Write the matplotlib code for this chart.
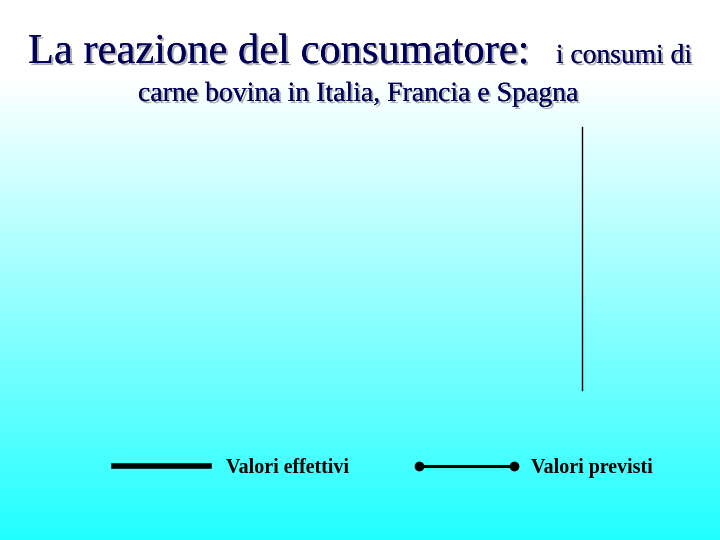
import numpy as np
import matplotlib
matplotlib.use('Agg')
import matplotlib.pyplot as plt
import matplotlib.patheffects as pe
from matplotlib.lines import Line2D

TITLE_BIG = 'La reazione del consumatore:'
TITLE_SMALL = 'i consumi di'
SUBTITLE = 'carne bovina in Italia, Francia e Spagna'
SERIES = ['Valori effettivi', 'Valori previsti']

NAVY = '#00005a'
W, H = 720, 540

plt.rcParams['font.family'] = ['Liberation Serif', 'DejaVu Serif']

fig = plt.figure(figsize=(W / 100, H / 100), dpi=100)

# background gradient, white near the top to cyan at the bottom
bg = fig.add_axes([0, 0, 1, 1], zorder=-10)
y = np.arange(H)[:, None]
red = np.clip((293 - 0.483 * y) / 255.0, 0.1, 1.0)
img = np.dstack([red, np.ones_like(red), np.ones_like(red)])
bg.imshow(img, aspect='auto', extent=[0, 1, 0, 1])
bg.set_axis_off()


def px(x, y):
    return x / W, 1 - y / H


shadow = [pe.withSimplePatchShadow(offset=(1.5, -1.5), shadow_rgbFace='#9a9a9a',
                                   alpha=0.8), pe.Normal()]
fig.text(*px(28, 63), TITLE_BIG, fontsize=30.6, color=NAVY, ha='left',
         va='baseline', path_effects=shadow)
fig.text(*px(556, 63), TITLE_SMALL, fontsize=19.8, color=NAVY, ha='left',
         va='baseline', path_effects=shadow)
fig.text(*px(138, 101), SUBTITLE, fontsize=20, color=NAVY, ha='left',
         va='baseline', path_effects=shadow)

# empty chart area: only the vertical axis line remains
ax = fig.add_axes([582 / W, 1 - 390 / H, 0.1, 263 / H])
ax.patch.set_visible(False)
for s in ('top', 'right', 'bottom'):
    ax.spines[s].set_visible(False)
ax.spines['left'].set_linewidth(1.0)
ax.set_xticks([])
ax.set_yticks([])

handles = [
    Line2D([], [], color='black', linewidth=4),
    Line2D([], [], color='black', linewidth=2.2, marker='o', markersize=6),
]
leg = fig.legend(handles, SERIES, loc='center left',
                 bbox_to_anchor=(108 / W, 1 - 468 / H), ncol=2,
                 frameon=False, numpoints=2, handlelength=5.35,
                 handletextpad=0.55, columnspacing=3.2, borderpad=0,
                 borderaxespad=0,
                 prop={'family': ['Liberation Serif'], 'weight': 'bold',
                       'size': 14.4})

fig.savefig('out.png', dpi=100)
